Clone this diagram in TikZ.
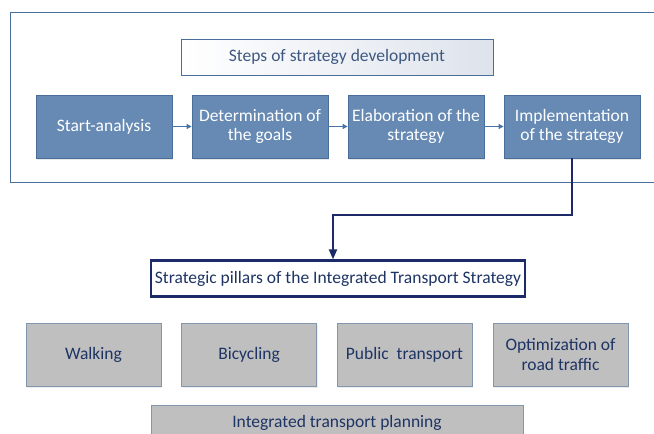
\documentclass[tikz,border=0pt]{standalone}
\usepackage{fontspec}
\setmainfont{Carlito}
\usetikzlibrary{arrows.meta,shadows}

\definecolor{stepfill}{RGB}{102,138,180}
\definecolor{stepline}{RGB}{74,110,154}
\definecolor{steparrow}{RGB}{70,115,170}
\definecolor{titletext}{RGB}{62,88,128}
\definecolor{navy}{RGB}{28,42,105}
\definecolor{pillartext}{RGB}{30,52,100}
\definecolor{pillarfill}{RGB}{191,191,191}
\definecolor{pillarline}{RGB}{130,150,176}

\begin{document}
\begin{tikzpicture}[x=1pt, y=-1pt,
  stepbox/.style={draw=stepline, fill=stepfill, text=white, line width=0.8pt,
    minimum width=136pt, minimum height=63pt, inner sep=0pt, align=center,
    drop shadow={opacity=0.18, shadow xshift=1pt, shadow yshift=-1.5pt},
    font=\fontsize{17.5}{19.5}\selectfont},
  pillarbox/.style={draw=pillarline, fill=pillarfill, text=pillartext, line width=0.8pt,
    minimum width=135pt, minimum height=63pt, inner sep=0pt, align=center,
    drop shadow={opacity=0.15, shadow xshift=1pt, shadow yshift=-1.5pt},
    font=\fontsize{17.5}{19.5}\selectfont},
  steparrow/.style={draw=steparrow, line width=0.9pt, -{Triangle[length=5pt,width=5pt]}}]

\useasboundingbox (0,0) rectangle (654,434);

% AREAS %%%%%%%%%%%%%%%%%%%%%%%%%%%%%%%%%%%%%%%%%%%%%%%%%%%%%%%%%%%%%%%%%%

\draw[color=stepline, line width=0.8pt] (660,12) -- (10,12) -- (10,182) -- (660,182);

% NODES %%%%%%%%%%%%%%%%%%%%%%%%%%%%%%%%%%%%%%%%%%%%%%%%%%%%%%%%%%%%%%%%%%

\node[draw=stepline, line width=0.8pt, left color=white, right color={rgb,255:red,222;green,227;blue,236},
  minimum width=312pt, minimum height=36pt, inner sep=0pt, text=titletext,
  font=\fontsize{17.5}{19.5}\selectfont] (steps) at (337,57) {Steps of strategy development};

\node[stepbox] (S1) at (104,126.5) {Start-analysis};
\node[stepbox] (S2) at (260,126.5) {Determination of\\the goals};
\node[stepbox] (S3) at (416,126.5) {Elaboration of the\\strategy};
\node[stepbox] (S4) at (572,126.5) {Implementation\\of the strategy};

\node[draw=navy, fill=white, line width=2.2pt, minimum width=374pt, minimum height=36pt,
  inner sep=0pt, text=pillartext, font=\fontsize{17.5}{19.5}\selectfont] (pillars) at (338,278.5)
  {Strategic pillars of the Integrated Transport Strategy};

\node[pillarbox] (P1) at (93.5,354.5) {Walking};
\node[pillarbox] (P2) at (249,354.5) {Bicycling};
\node[pillarbox] (P3) at (404.5,354.5) {Public\ \ transport};
\node[pillarbox] (P4) at (560.5,354.5) {Optimization of\\road traffic};

\node[pillarbox, minimum width=372pt, minimum height=36pt] (ITP) at (337,423)
  {Integrated transport planning};

% LINKS %%%%%%%%%%%%%%%%%%%%%%%%%%%%%%%%%%%%%%%%%%%%%%%%%%%%%%%%%%%%%%%%%%

\draw[steparrow] (S1) -- (S2);
\draw[steparrow] (S2) -- (S3);
\draw[steparrow] (S3) -- (S4);

\coordinate (bend) at (333,215);
\draw[navy, line width=2pt, -{Triangle[length=10pt,width=8pt]}]
  (S4.south) |- (bend) -- (bend |- pillars.north);

\end{tikzpicture}
\end{document}
